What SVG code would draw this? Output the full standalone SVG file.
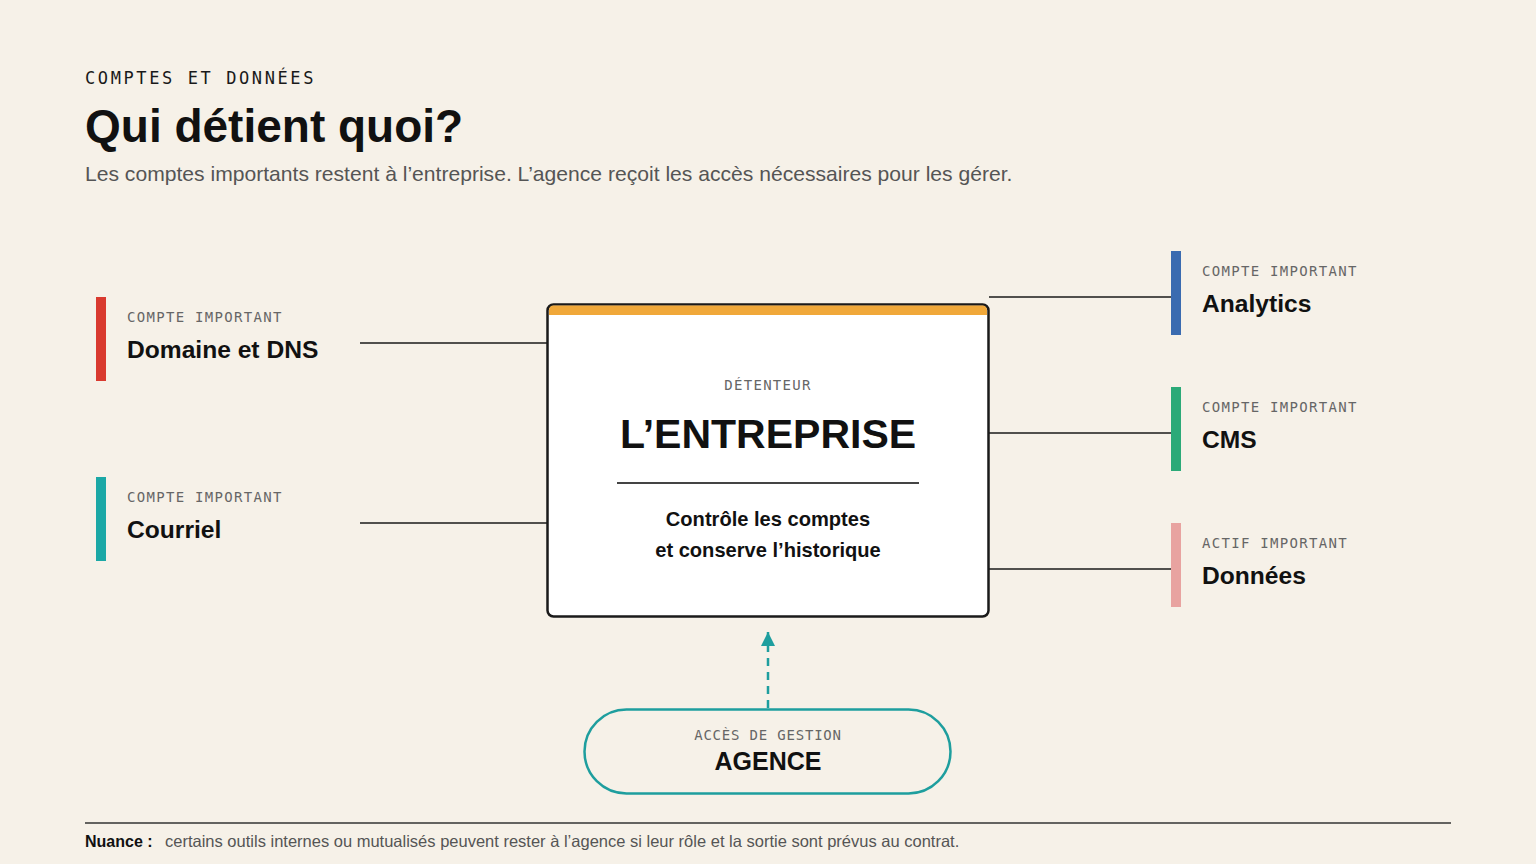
<svg xmlns="http://www.w3.org/2000/svg" width="1536" height="864" viewBox="0 0 1536 864">
<defs>
<marker id="arr" viewBox="0 0 10 10" refX="10" refY="5" markerWidth="6.4" markerHeight="5.6" orient="auto" markerUnits="strokeWidth">
<path d="M0,0 L10,5 L0,10 Z" fill="#1E9E9E"/>
</marker>
<style>
.mono{font-family:"DejaVu Sans Mono","Liberation Mono",monospace;fill:#666;letter-spacing:1.3px}
.sans{font-family:"Liberation Sans",Arial,sans-serif}
.b{font-weight:700;fill:#111}
.lbl{font-size:14px}
.ttl{font-size:24.6px}
.conn{stroke:#1a1a1a;stroke-width:1.6;fill:none}
</style>
</defs>
<rect width="1536" height="864" fill="#F6F1E8"/>
<g id="header">
<text x="85" y="84" class="mono" style="font-size:17px;fill:#1a1a1a;letter-spacing:2.6px">COMPTES ET DONNÉES</text>
<text x="85" y="142" class="sans b" style="font-size:46px">Qui détient quoi?</text>
<text x="85" y="181" class="sans" style="font-size:21.1px;fill:#555">Les comptes importants restent à l’entreprise. L’agence reçoit les accès nécessaires pour les gérer.</text>
</g>
<g id="connectors">
<line class="conn" x1="360" y1="343" x2="547" y2="343"/>
<line class="conn" x1="360" y1="523" x2="547" y2="523"/>
<line class="conn" x1="989" y1="297" x2="1171" y2="297"/>
<line class="conn" x1="989" y1="433" x2="1171" y2="433"/>
<line class="conn" x1="989" y1="569" x2="1171" y2="569"/>
<line x1="768" y1="708" x2="768" y2="632" stroke="#1E9E9E" stroke-width="2.5" stroke-dasharray="8 6" marker-end="url(#arr)"/>
</g>
<g id="entreprise">
<rect x="547.5" y="304.5" width="441" height="312" rx="6" fill="#fff" stroke="#1a1a1a" stroke-width="2.5"/>
<path d="M549 315 V310 a4.5 4.5 0 0 1 4.5 -4.5 H982.5 a4.5 4.5 0 0 1 4.5 4.5 V315 Z" fill="#F0A83A"/>
<text x="768" y="390" text-anchor="middle" class="mono lbl">DÉTENTEUR</text>
<text x="768" y="448" text-anchor="middle" class="sans b" style="font-size:41px">L’ENTREPRISE</text>
<line x1="617" y1="483" x2="919" y2="483" stroke="#444" stroke-width="2"/>
<text x="768" y="526" text-anchor="middle" class="sans b" style="font-size:20.1px">Contrôle les comptes</text>
<text x="768" y="557" text-anchor="middle" class="sans b" style="font-size:20.1px">et conserve l’historique</text>
</g>
<g id="domaine">
<rect x="96" y="297" width="10" height="84" fill="#D93A2F"/>
<text x="127" y="322" class="mono lbl">COMPTE IMPORTANT</text>
<text x="127" y="358" class="sans b ttl">Domaine et DNS</text>
</g>
<g id="courriel">
<rect x="96" y="477" width="10" height="84" fill="#1BA8A6"/>
<text x="127" y="502" class="mono lbl">COMPTE IMPORTANT</text>
<text x="127" y="538" class="sans b ttl">Courriel</text>
</g>
<g id="analytics">
<rect x="1171" y="251" width="10" height="84" fill="#3A6BB0"/>
<text x="1202" y="276" class="mono lbl">COMPTE IMPORTANT</text>
<text x="1202" y="312" class="sans b ttl">Analytics</text>
</g>
<g id="cms">
<rect x="1171" y="387" width="10" height="84" fill="#2BAA78"/>
<text x="1202" y="412" class="mono lbl">COMPTE IMPORTANT</text>
<text x="1202" y="448" class="sans b ttl">CMS</text>
</g>
<g id="donnees">
<rect x="1171" y="523" width="10" height="84" fill="#E8A3A0"/>
<text x="1202" y="548" class="mono lbl">ACTIF IMPORTANT</text>
<text x="1202" y="584" class="sans b ttl">Données</text>
</g>
<g id="agence">
<rect x="584.5" y="709.5" width="366" height="84" rx="42" fill="none" stroke="#1E9E9E" stroke-width="2.5"/>
<text x="768" y="740" text-anchor="middle" class="mono lbl" style="letter-spacing:0.8px">ACCÈS DE GESTION</text>
<text x="768" y="770" text-anchor="middle" class="sans b" style="font-size:25px">AGENCE</text>
</g>
<g id="footer">
<line x1="85" y1="823" x2="1451" y2="823" stroke="#333" stroke-width="1.5"/>
<text x="85" y="847" class="sans b" style="font-size:16px">Nuance :</text>
<text x="165" y="847" class="sans" style="font-size:16.5px;fill:#555">certains outils internes ou mutualisés peuvent rester à l’agence si leur rôle et la sortie sont prévus au contrat.</text>
</g>
</svg>
